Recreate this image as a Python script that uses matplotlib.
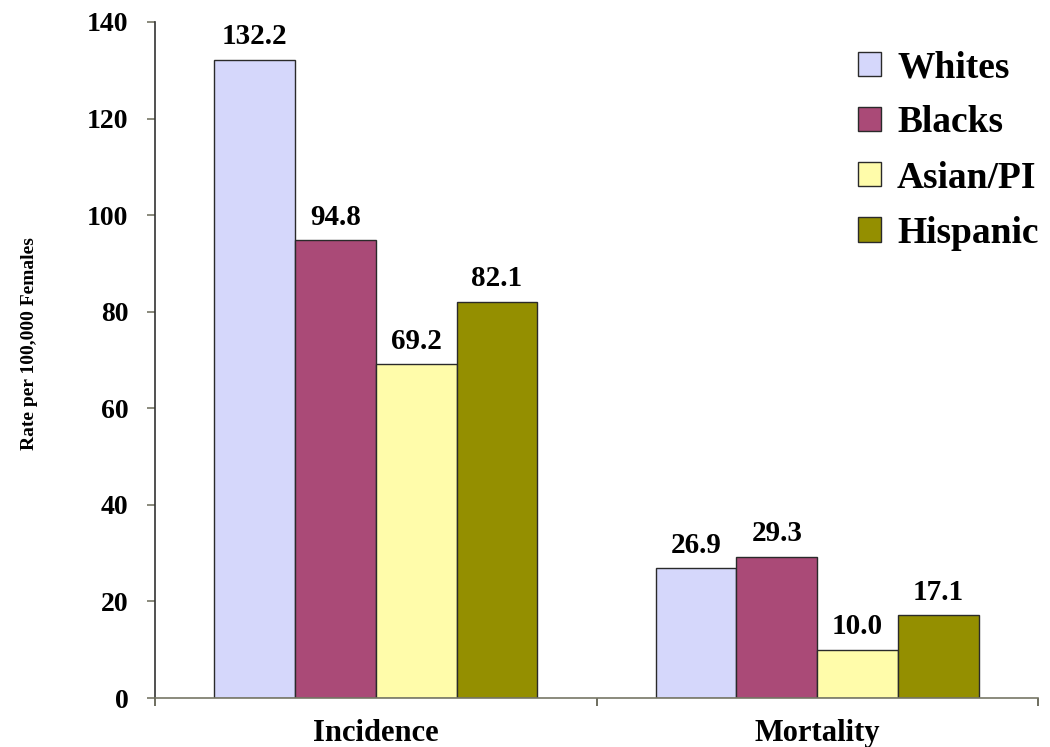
import numpy as np
import matplotlib
matplotlib.use("Agg")
import matplotlib.pyplot as plt

plt.rcParams["font.family"] = ["Liberation Serif", "DejaVu Serif"]
plt.rcParams["font.weight"] = "bold"

measures = ["Incidence", "Mortality"]
groups = ["Whites", "Blacks", "Asian/PI", "Hispanic"]
whites = [132.2, 26.9]
blacks = [94.8, 29.3]
asian_pi = [69.2, 10.0]
hispanic = [82.1, 17.1]
yticks = [0, 20, 40, 60, 80, 100, 120, 140]

colors = ["#D5D7FB", "#AA4A77", "#FFFCAA", "#948F00"]


def main() -> None:
    fig = plt.figure(figsize=(10.5, 7.47), dpi=100)
    ax = fig.add_axes([155 / 1050, 1 - 698 / 747, (1038 - 155) / 1050, (698 - 22) / 747])

    x = np.arange(len(measures))
    width = 0.183
    series = [whites, blacks, asian_pi, hispanic]
    for i, (name, vals, col) in enumerate(zip(groups, series, colors)):
        pos = x + (i - 1.5) * width
        bars = ax.bar(pos, vals, width, color=col, edgecolor="#2a2a2a",
                      linewidth=1.0, label=name, zorder=2)
        for b, v in zip(bars, vals):
            ax.annotate(f"{v:.1f}", (b.get_x() + b.get_width() / 2, v),
                        xytext=(0, 11), textcoords="offset points",
                        ha="center", va="baseline", fontsize=21,
                        fontweight="bold")

    ax.set_xlim(-0.5, 1.5)
    ax.set_ylim(0, 140)
    ax.set_yticks(yticks)
    ax.set_yticklabels([str(t) for t in yticks])
    ax.set_xticks(x)
    ax.set_xticklabels(measures)
    ax.set_xticks([-0.5, 0.5, 1.5], minor=True)

    ax.tick_params(axis="x", which="major", length=0, pad=15, labelsize=22)
    ax.tick_params(axis="x", which="minor", length=6, width=1.2,
                   direction="out", color="#555544")
    ax.tick_params(axis="y", length=6, width=1.2, direction="out",
                   color="#777766", pad=13, labelsize=20)

    for side in ["top", "right"]:
        ax.spines[side].set_visible(False)
    ax.spines["left"].set_color("#333333")
    ax.spines["bottom"].set_color("#777766")
    ax.spines["left"].set_linewidth(1.2)
    ax.spines["bottom"].set_linewidth(1.2)

    fig.text(30 / 1050, 1 - 344 / 747, "Rate per 100,000 Females",
             rotation=90, ha="center", va="center", fontsize=14,
             fontweight="bold")

    ax.legend(loc="upper left", bbox_to_anchor=(858 / 1050, 1 - 50 / 747),
              bbox_transform=fig.transFigure, frameon=False,
              prop={"size": 27, "weight": "bold"},
              handlelength=0.62, handleheight=0.62, handletextpad=0.42,
              labelspacing=0.54, borderpad=0, borderaxespad=0)

    fig.savefig("out.png", dpi=100)


if __name__ == "__main__":
    main()
